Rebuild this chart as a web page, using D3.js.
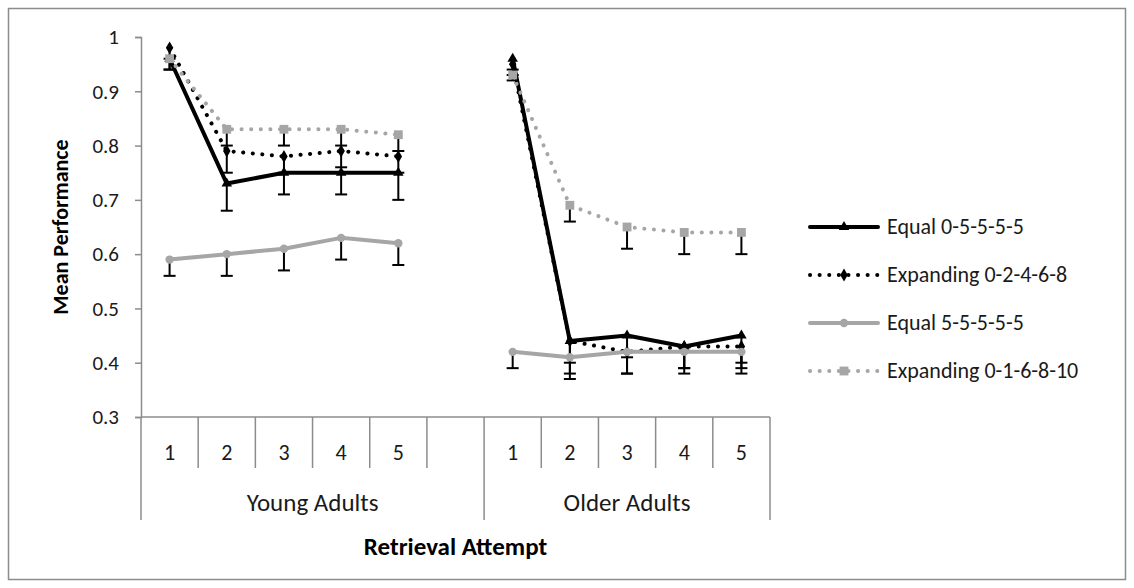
<!DOCTYPE html>
<html lang="en">
<head>
  <meta charset="UTF-8">
  <title>Mean Performance by Retrieval Attempt</title>
  <script src="https://d3js.org/d3.v7.min.js"></script>
  <style>
    body {
      margin: 0;
      background: #ffffff;
      font-family: Carlito, Calibri, Lato, sans-serif;
    }
    #chart { width: 1134px; height: 588px; }
  </style>
</head>
<body>
  <div id="chart"></div>
  <script>
    // Categories: two groups, attempts 1-5 (the young group has one empty slot at the end)
    const groups = ["Young Adults", "Older Adults"];
    const attempts = [1, 2, 3, 4, 5];
    const yTicks = [0.3, 0.4, 0.5, 0.6, 0.7, 0.8, 0.9, 1];

    // Series values: first five = young adults, last five = older adults
    const seriesNames = ["Equal 0-5-5-5-5", "Expanding 0-2-4-6-8", "Equal 5-5-5-5-5", "Expanding 0-1-6-8-10"];
    const equal0555 = [0.96, 0.73, 0.75, 0.75, 0.75, 0.96, 0.44, 0.45, 0.43, 0.45];
    const expand02468 = [0.98, 0.79, 0.78, 0.79, 0.78, 0.95, 0.44, 0.42, 0.43, 0.43];
    const equal55555 = [0.59, 0.60, 0.61, 0.63, 0.62, 0.42, 0.41, 0.42, 0.42, 0.42];
    const expand016810 = [0.96, 0.83, 0.83, 0.83, 0.82, 0.93, 0.69, 0.65, 0.64, 0.64];

    // Minus-only error bars
    const equal0555Err = [0.02, 0.05, 0.04, 0.04, 0.05, 0.02, 0.04, 0.04, 0.04, 0.05];
    const expand02468Err = [0.02, 0.04, 0.03, 0.03, 0.03, 0.02, 0.06, 0.04, 0.04, 0.04];
    const equal55555Err = [0.03, 0.04, 0.04, 0.04, 0.04, 0.03, 0.04, 0.04, 0.04, 0.04];
    const expand016810Err = [0.02, 0.03, 0.03, 0.03, 0.03, 0.01, 0.03, 0.04, 0.04, 0.04];

    const W = 1134, H = 588;
    const plot = { left: 141, right: 770, top: 37, bottom: 417 };
    const fontSize = "21px";

    const svg = d3.select("#chart").append("svg")
      .attr("width", W)
      .attr("height", H);

    // chart frame
    svg.append("rect")
      .attr("x", 8.5).attr("y", 8.5)
      .attr("width", W - 17).attr("height", H - 17)
      .attr("fill", "#fff")
      .attr("stroke", "#8c8c8c")
      .attr("stroke-width", 1.5);

    // slot keys: Y1..Y5, Y-gap, O1..O5
    const slots = [];
    attempts.forEach(a => slots.push("Y" + a));
    slots.push("Ygap");
    attempts.forEach(a => slots.push("O" + a));

    const x = d3.scaleBand()
      .domain(slots)
      .range([plot.left, plot.right])
      .padding(0);

    const y = d3.scaleLinear()
      .domain([0.3, 1])
      .range([plot.bottom, plot.top]);

    const pointKeys = attempts.map(a => "Y" + a).concat(attempts.map(a => "O" + a));
    const cx = i => x(pointKeys[i]) + x.bandwidth() / 2;

    const axisColor = "#8c8c8c";

    // y axis
    const yAxis = svg.append("g")
      .attr("transform", `translate(${plot.left},0)`)
      .call(d3.axisLeft(y).tickValues(yTicks).tickSize(6).tickPadding(16)
        .tickFormat(d => d === 1 ? "1" : d3.format(".1f")(d)));
    yAxis.select(".domain").attr("stroke", axisColor).attr("stroke-width", 1.5);
    yAxis.selectAll(".tick line").attr("stroke", axisColor).attr("stroke-width", 1.5);
    yAxis.selectAll(".tick text")
      .attr("fill", "#1a1a1a")
      .style("font-size", fontSize)
      .style("font-family", "Carlito, Calibri, Lato, sans-serif");

    // x axis baseline
    svg.append("line")
      .attr("x1", plot.left).attr("x2", plot.right)
      .attr("y1", plot.bottom).attr("y2", plot.bottom)
      .attr("stroke", axisColor).attr("stroke-width", 1.5);

    // category separators
    const boundaries = slots.map(s => x(s)).concat([plot.right]);
    const groupEdges = [x("Y1"), x("O1"), plot.right];
    svg.append("g").selectAll("line")
      .data(boundaries)
      .join("line")
      .attr("x1", d => d).attr("x2", d => d)
      .attr("y1", plot.bottom)
      .attr("y2", d => groupEdges.some(g => Math.abs(g - d) < 0.5) ? 520 : 468)
      .attr("stroke", axisColor)
      .attr("stroke-width", 1.5);

    // attempt numbers
    svg.append("g").selectAll("text")
      .data(pointKeys)
      .join("text")
      .attr("x", d => x(d) + x.bandwidth() / 2)
      .attr("y", 460)
      .attr("text-anchor", "middle")
      .attr("fill", "#1a1a1a")
      .style("font-size", "22px")
      .text(d => d.slice(1));

    // group labels
    svg.append("g").selectAll("text")
      .data(groups)
      .join("text")
      .attr("x", (d, i) => (groupEdges[i] + groupEdges[i + 1]) / 2)
      .attr("y", 511)
      .attr("text-anchor", "middle")
      .attr("fill", "#1a1a1a")
      .style("font-size", "25px")
      .text(d => d);

    // axis titles
    svg.append("text")
      .attr("x", (plot.left + plot.right) / 2)
      .attr("y", 555)
      .attr("text-anchor", "middle")
      .style("font-size", "25px")
      .style("font-weight", "bold")
      .text("Retrieval Attempt");

    svg.append("text")
      .attr("transform", `translate(68,${(plot.top + plot.bottom) / 2}) rotate(-90)`)
      .attr("text-anchor", "middle")
      .style("font-size", "22px")
      .style("font-weight", "bold")
      .text("Mean Performance");

    // series styling
    const series = [
      { name: seriesNames[0], values: equal0555, err: equal0555Err, color: "#000000", dash: null, symbol: d3.symbolTriangle, size: 48 },
      { name: seriesNames[1], values: expand02468, err: expand02468Err, color: "#000000", dash: "0.1 9.5", symbol: d3.symbolDiamond, size: 48 },
      { name: seriesNames[2], values: equal55555, err: equal55555Err, color: "#a6a6a6", dash: null, symbol: d3.symbolCircle, size: 55 },
      { name: seriesNames[3], values: expand016810, err: expand016810Err, color: "#a6a6a6", dash: "0.1 9.5", symbol: d3.symbolSquare, size: 78 }
    ];

    // lines (each group drawn separately)
    series.forEach(s => {
      [s.values.slice(0, 5), s.values.slice(5)].forEach((vals, g) => {
        svg.append("path")
          .datum(vals)
          .attr("fill", "none")
          .attr("stroke", s.color)
          .attr("stroke-width", 4)
          .attr("stroke-linecap", "round")
          .attr("stroke-linejoin", "round")
          .attr("stroke-dasharray", s.dash)
          .attr("d", d3.line().x((d, i) => cx(i + g * 5)).y(d => y(d)));
      });
    });

    // error bars (minus only)
    series.forEach(s => {
      const eb = svg.append("g");
      s.values.forEach((v, i) => {
        eb.append("line")
          .attr("x1", cx(i)).attr("x2", cx(i))
          .attr("y1", y(v)).attr("y2", y(v - s.err[i]))
          .attr("stroke", "#000").attr("stroke-width", 2);
        eb.append("line")
          .attr("x1", cx(i) - 6).attr("x2", cx(i) + 6)
          .attr("y1", y(v - s.err[i])).attr("y2", y(v - s.err[i]))
          .attr("stroke", "#000").attr("stroke-width", 2);
      });
    });

    // markers
    series.forEach(s => {
      svg.append("g").selectAll("path")
        .data(s.values)
        .join("path")
        .attr("transform", (d, i) => `translate(${cx(i)},${y(d)})`)
        .attr("d", d3.symbol().type(s.symbol).size(s.size))
        .attr("fill", s.color);
    });

    // legend
    const legendY = [227, 275, 323, 371];
    const legend = svg.append("g");
    series.forEach((s, i) => {
      const gy = legendY[i];
      legend.append("line")
        .attr("x1", 810).attr("x2", 878)
        .attr("y1", gy).attr("y2", gy)
        .attr("stroke", s.color)
        .attr("stroke-width", 4)
        .attr("stroke-linecap", "round")
        .attr("stroke-dasharray", s.dash);
      legend.append("path")
        .attr("transform", `translate(844,${gy})`)
        .attr("d", d3.symbol().type(s.symbol).size(s.size))
        .attr("fill", s.color);
      legend.append("text")
        .attr("x", 887)
        .attr("y", gy + 7)
        .attr("fill", "#1a1a1a")
        .style("font-size", "22px")
        .text(s.name);
    });
  </script>
</body>
</html>
